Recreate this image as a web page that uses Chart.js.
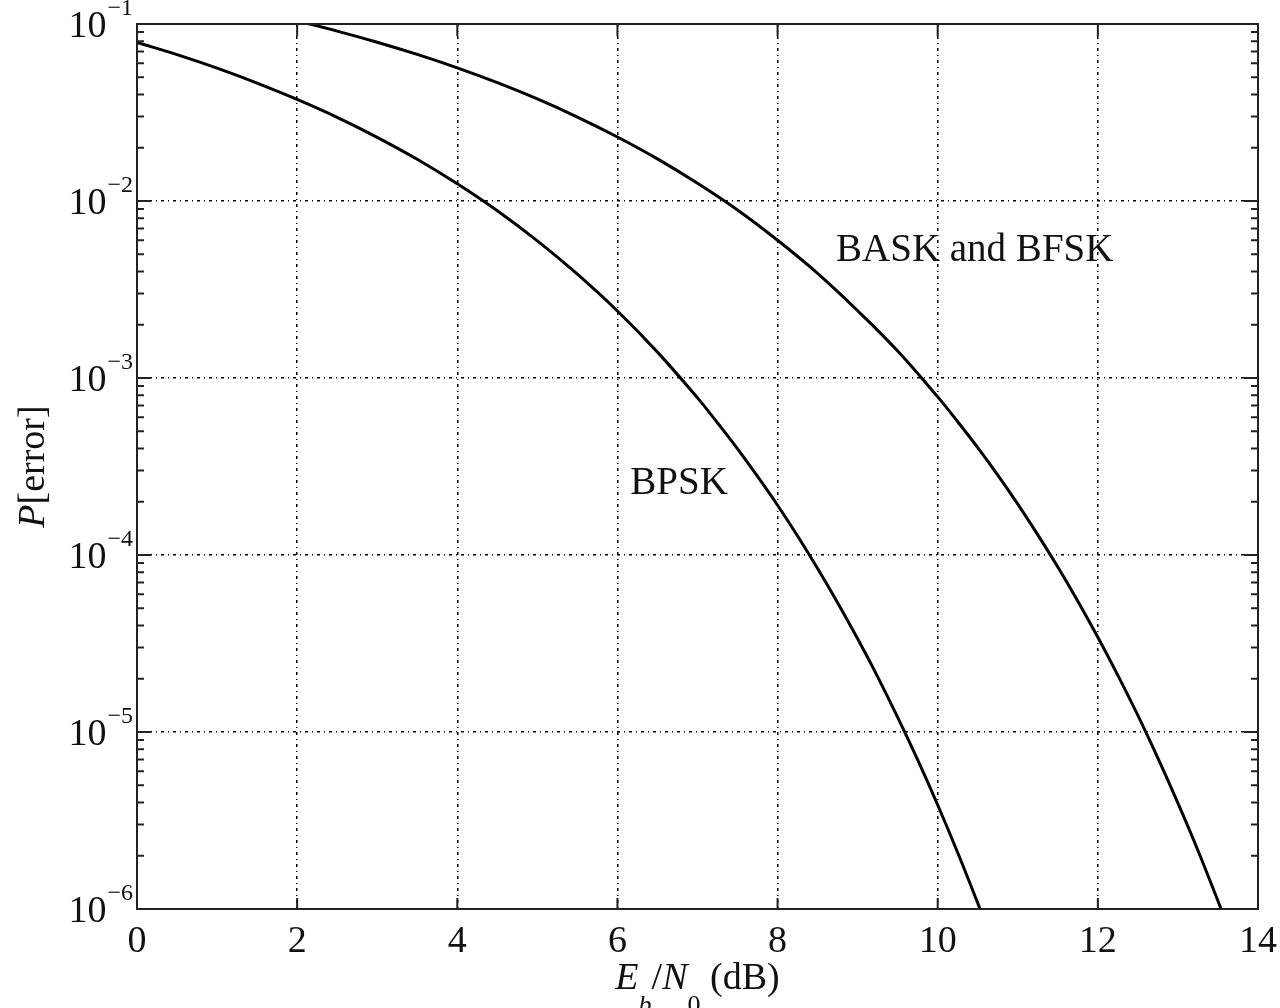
<!DOCTYPE html>
<html>
<head>
<meta charset="utf-8">
<title>P[error] vs Eb/N0</title>
<script src="https://cdn.jsdelivr.net/npm/chart.js@4/dist/chart.umd.min.js"></script>
<style>
  html, body { margin: 0; padding: 0; background: #fff; }
  #wrap { width: 1280px; height: 1008px; position: relative; }
</style>
</head>
<body>
<div id="wrap"><canvas id="berChart" width="1280" height="1008"></canvas></div>
<script>
// values
const bpskEbN0 = [0, 0.5, 1, 1.5, 2, 2.5, 3, 3.5, 4, 4.5, 5, 5.5, 6, 6.5, 7, 7.25, 7.5, 7.75, 8, 8.25, 8.5, 8.75,
                  9, 9.25, 9.5, 9.75, 10, 10.25, 10.5, 10.6];
const bpskPe = [0.0786, 0.0671, 0.0563, 0.0464, 0.0375, 0.0297, 0.0229, 0.0172, 0.0125, 0.0088, 0.00595, 0.00386,
                0.00239, 0.0014, 7.72e-4, 5.58e-4, 3.98e-4, 2.78e-4, 1.91e-4, 1.28e-4, 8.38e-5, 5.37e-5,
                3.36e-5, 2.05e-5, 1.21e-5, 6.96e-6, 3.87e-6, 2.08e-6, 1.08e-6, 8.2e-7];

const baskEbN0 = [2, 2.5, 3, 3.5, 4, 4.5, 5, 5.5, 6, 6.5, 7, 7.5, 8, 8.5, 9, 9.5, 10, 10.25, 10.5, 10.75, 11, 11.25,
                  11.5, 11.75, 12, 12.25, 12.5, 12.75, 13, 13.25, 13.5, 13.6];
const baskPe = [0.104, 0.0912, 0.0789, 0.0673, 0.0565, 0.0466, 0.0377, 0.0298, 0.0230, 0.0173, 0.0126, 0.0089, 0.0060,
                0.0039, 0.0024, 0.00142, 7.82e-4, 5.66e-4, 4.04e-4, 2.83e-4, 1.94e-4, 1.30e-4,
                8.55e-5, 5.48e-5, 3.43e-5, 2.09e-5, 1.24e-5, 7.11e-6, 3.96e-6, 2.14e-6, 1.11e-6, 8.5e-7];

const xTicks = [0, 2, 4, 6, 8, 10, 12, 14];
const yExponents = [-1, -2, -3, -4, -5, -6];

const curveLabels = [
    { text: 'BASK and BFSK', x: 8.73, y: 4.6e-3 },
    { text: 'BPSK', x: 6.16, y: 2.2e-4 }
];

const FONT = "'Liberation Serif', 'DejaVu Serif', serif";

function toPoints(xs, ys) {
    return xs.map((x, i) => ({ x: x, y: ys[i] }));
}

function isDecade(v) {
    const l = Math.log10(v);
    return Math.abs(l - Math.round(l)) < 1e-6;
}

// frame, inward ticks, tick labels with exponents, axis titles and curve labels
const matlabAxes = {
    id: 'matlabAxes',
    afterDraw(chart) {
        const ctx = chart.ctx;
        const area = chart.chartArea;
        const xs = chart.scales.x;
        const ys = chart.scales.y;
        ctx.save();
        ctx.strokeStyle = '#222';
        ctx.fillStyle = '#111';
        ctx.lineWidth = 2;
        ctx.strokeRect(area.left, area.top, area.right - area.left, area.bottom - area.top);

        // x ticks
        xTicks.forEach(v => {
            const px = xs.getPixelForValue(v);
            ctx.beginPath();
            ctx.moveTo(px, area.bottom); ctx.lineTo(px, area.bottom - 11);
            ctx.moveTo(px, area.top); ctx.lineTo(px, area.top + 12);
            ctx.stroke();
        });
        // y ticks, major and minor
        for (let e = -6; e <= -2; e++) {
            for (let m = 1; m <= 10; m++) {
                const v = m * Math.pow(10, e);
                const py = ys.getPixelForValue(v);
                const len = (m === 1 || m === 10) ? 14 : 7;
                ctx.beginPath();
                ctx.moveTo(area.left, py); ctx.lineTo(area.left + len, py);
                ctx.moveTo(area.right, py); ctx.lineTo(area.right - len, py);
                ctx.stroke();
            }
        }

        // x tick labels
        ctx.font = '38px ' + FONT;
        ctx.textAlign = 'center';
        ctx.textBaseline = 'alphabetic';
        xTicks.forEach(v => {
            ctx.fillText(String(v), xs.getPixelForValue(v), area.bottom + 43);
        });

        // y tick labels as 10^e
        yExponents.forEach(e => {
            const py = ys.getPixelForValue(Math.pow(10, e));
            const sup = '\u2212' + Math.abs(e);
            ctx.font = '24px ' + FONT;
            ctx.textAlign = 'right';
            const supW = ctx.measureText(sup).width;
            ctx.fillText(sup, area.left - 4, py - 9);
            ctx.font = '38px ' + FONT;
            ctx.fillText('10', area.left - 4 - supW - 1, py + 13);
        });

        // x axis title: E_b/N_0 (dB)
        const parts = [
            { t: 'E', f: 'italic 38px ', dy: 0 },
            { t: 'b', f: 'italic 26px ', dy: 24 },
            { t: '/', f: '38px ', dy: 0 },
            { t: 'N', f: 'italic 38px ', dy: 0 },
            { t: '0', f: '26px ', dy: 24 },
            { t: ' (dB)', f: '38px ', dy: 0 }
        ];
        ctx.textAlign = 'left';
        let total = 0;
        parts.forEach(p => { ctx.font = p.f + FONT; p.w = ctx.measureText(p.t).width; total += p.w; });
        let cx = (area.left + area.right) / 2 - total / 2;
        const base = area.bottom + 80;
        parts.forEach(p => {
            ctx.font = p.f + FONT;
            ctx.fillText(p.t, cx, base + p.dy);
            cx += p.w;
        });

        // y axis title: P[error]
        ctx.save();
        ctx.translate(44, (area.top + area.bottom) / 2);
        ctx.rotate(-Math.PI / 2);
        ctx.font = 'italic 38px ' + FONT;
        const pW = ctx.measureText('P').width;
        ctx.font = '38px ' + FONT;
        const restW = ctx.measureText('[error]').width;
        const tx = -(pW + restW) / 2;
        ctx.font = 'italic 38px ' + FONT;
        ctx.fillText('P', tx, 0);
        ctx.font = '38px ' + FONT;
        ctx.fillText('[error]', tx + pW, 0);
        ctx.restore();

        // curve labels
        ctx.font = '39px ' + FONT;
        ctx.textAlign = 'left';
        curveLabels.forEach(l => {
            ctx.fillText(l.text, xs.getPixelForValue(l.x), ys.getPixelForValue(l.y));
        });
        ctx.restore();
    }
};

const ctx = document.getElementById('berChart').getContext('2d');
const berChart = new Chart(ctx, {
    type: 'line',
    data: {
        datasets: [{
            label: 'BPSK',
            data: toPoints(bpskEbN0, bpskPe),
            borderColor: '#000',
            borderWidth: 3,
            pointRadius: 0,
            tension: 0.4,
            clip: 0,
            fill: false
        }, {
            label: 'BASK and BFSK',
            data: toPoints(baskEbN0, baskPe),
            borderColor: '#000',
            borderWidth: 3,
            pointRadius: 0,
            tension: 0.4,
            clip: 0,
            fill: false
        }]
    },
    options: {
        responsive: false,
        animation: false,
        events: [],
        layout: {
            padding: { left: 137, top: 24, right: 22, bottom: 99 }
        },
        plugins: {
            legend: { display: false },
            tooltip: { enabled: false }
        },
        scales: {
            x: {
                type: 'linear',
                min: 0,
                max: 14,
                ticks: { display: false, stepSize: 2 },
                grid: {
                    drawTicks: false,
                    lineWidth: 1.5,
                    color: c => (c.tick && (c.tick.value === 0 || c.tick.value === 14)) ? 'rgba(0,0,0,0)' : '#000'
                },
                border: { display: false, dash: [3, 4, 1, 4] }
            },
            y: {
                type: 'logarithmic',
                min: 1e-6,
                max: 1e-1,
                ticks: { display: false },
                grid: {
                    drawTicks: false,
                    lineWidth: 1.5,
                    color: c => {
                        if (!c.tick) return 'rgba(0,0,0,0)';
                        const v = c.tick.value;
                        if (!isDecade(v) || v <= 1.0001e-6 || v >= 0.0999) return 'rgba(0,0,0,0)';
                        return '#000';
                    }
                },
                border: { display: false, dash: [3, 4, 1, 4] }
            }
        }
    },
    plugins: [matlabAxes]
});
</script>
</body>
</html>
